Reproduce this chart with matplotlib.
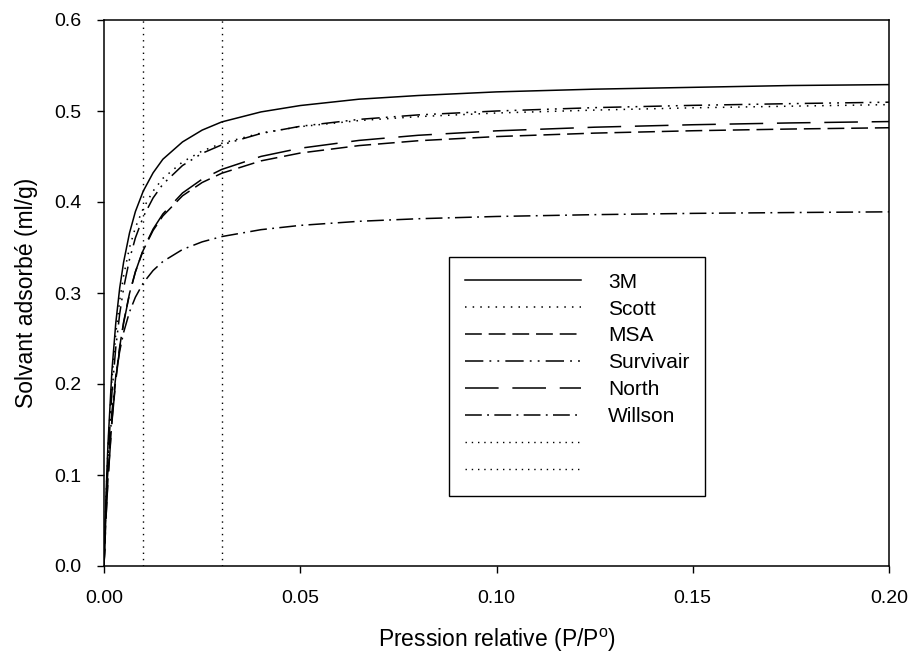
"""Adsorption isotherms: solvent adsorbed vs relative pressure, six cartridge brands."""

import matplotlib
matplotlib.use("Agg")
import matplotlib.pyplot as plt

plt.rcParams["font.family"] = ["Liberation Sans", "DejaVu Sans"]
plt.rcParams["mathtext.fontset"] = "custom"
plt.rcParams["mathtext.rm"] = "Liberation Sans"

# ---------------------------------------------------------------------------
# Data
# ---------------------------------------------------------------------------
P_REL = [0.0, 0.0005, 0.001, 0.002, 0.003, 0.004, 0.005, 0.0065, 0.008, 0.01,
         0.0125, 0.015, 0.02, 0.025, 0.03, 0.04, 0.05, 0.065, 0.08, 0.10,
         0.125, 0.15, 0.175, 0.20]

ADS_3M = [0.0, 0.076, 0.133, 0.2135, 0.267, 0.3055, 0.334, 0.366, 0.3895, 0.412,
          0.432, 0.447, 0.466, 0.479, 0.488, 0.499, 0.506, 0.513, 0.517, 0.521,
          0.524, 0.526, 0.528, 0.529]

ADS_SCOTT = [0.0, 0.073, 0.128, 0.204, 0.255, 0.292, 0.319, 0.350, 0.372, 0.393,
             0.412, 0.426, 0.444, 0.456, 0.4645, 0.4758, 0.4828, 0.4895, 0.4938, 0.4978,
             0.501, 0.5035, 0.5053, 0.507]

ADS_MSA = [0.0, 0.0527, 0.0951, 0.1594, 0.2058, 0.2408, 0.2682, 0.2996, 0.3232, 0.347,
           0.3687, 0.3847, 0.4068, 0.4214, 0.4316, 0.4452, 0.4538, 0.462, 0.4673, 0.4719,
           0.4757, 0.4783, 0.4802, 0.4816]

ADS_SURVIVAIR = [0.0, 0.0653, 0.116, 0.1894, 0.240, 0.2771, 0.3054, 0.3371, 0.3606, 0.3837,
                 0.4044, 0.4196, 0.4401, 0.4535, 0.4628, 0.4753, 0.4832, 0.4908, 0.4957, 0.500,
                 0.5037, 0.5062, 0.5081, 0.5097]

ADS_NORTH = [0.0, 0.0515, 0.0933, 0.1572, 0.2037, 0.2391, 0.2669, 0.299, 0.3233, 0.3478,
             0.3702, 0.3869, 0.4099, 0.4251, 0.4358, 0.4501, 0.4591, 0.4677, 0.4733, 0.4782,
             0.4822, 0.4849, 0.4869, 0.4884]

ADS_WILLSON = [0.0, 0.062, 0.1071, 0.1685, 0.2083, 0.2361, 0.2567, 0.2792, 0.2954, 0.311,
               0.3247, 0.3346, 0.3478, 0.3562, 0.362, 0.3696, 0.3743, 0.3788, 0.3816, 0.3841,
               0.3861, 0.3875, 0.3884, 0.3892]

BRANDS = ["3M", "Scott", "MSA", "Survivair", "North", "Willson"]
V_LINES = [0.01, 0.03]

X_TICKS = [0.0, 0.05, 0.10, 0.15, 0.20]
Y_TICKS = [0.0, 0.1, 0.2, 0.3, 0.4, 0.5, 0.6]

# line styles (dash patterns in points)
STYLES = {
    "3M":        "-",
    "Scott":     (0, (1, 4)),
    "MSA":       (0, (11, 4.5)),
    "Survivair": (0, (12, 4, 1.2, 4, 1.2, 4)),
    "North":     (0, (22, 9)),
    "Willson":   (0, (11, 3.5, 1.2, 3.5)),
}

series = [ADS_3M, ADS_SCOTT, ADS_MSA, ADS_SURVIVAIR, ADS_NORTH, ADS_WILLSON]

fig = plt.figure(figsize=(9.08, 6.58), dpi=100)
ax = fig.add_axes([104 / 908, 92 / 658, 785 / 908, 546 / 658])

handles = []
for name, ys in zip(BRANDS, series):
    (ln,) = ax.plot(P_REL, ys, color="black", lw=1.1, linestyle=STYLES[name])
    handles.append(ln)

for xv in V_LINES:
    ln = ax.axvline(xv, color="black", lw=1.0, linestyle=(0, (1, 3.5)))
    handles.append(ln)

labels = BRANDS + ["", ""]
leg = ax.legend(handles, labels, loc="upper left", bbox_to_anchor=(0.4395, 0.566),
                borderaxespad=0, fontsize=15, handlelength=5.6, handletextpad=1.28,
                borderpad=0.75, labelspacing=0.38, fancybox=False, framealpha=1,
                edgecolor="black")
leg.get_frame().set_linewidth(1.0)

ax.set_xlim(0, 0.2)
ax.set_ylim(0, 0.6)
ax.set_xticks(X_TICKS)
ax.set_yticks(Y_TICKS)
ax.set_xticklabels([f"{v:.2f}" for v in X_TICKS])
ax.set_yticklabels([f"{v:.1f}" for v in Y_TICKS])
ax.tick_params(direction="out", length=5, width=1.0, labelsize=14, pad=11,
               top=False, right=False)
ax.tick_params(axis="x", pad=12.5)

ax.set_xlabel("Pression relative (P/P$^\\mathregular{o}$)", fontsize=16.5, labelpad=14)
ax.set_ylabel("Solvant adsorbé (ml/g)", fontsize=16.5, labelpad=12)

for sp in ax.spines.values():
    sp.set_linewidth(1.1)

fig.savefig("out.png", dpi=100)
plt.close(fig)
